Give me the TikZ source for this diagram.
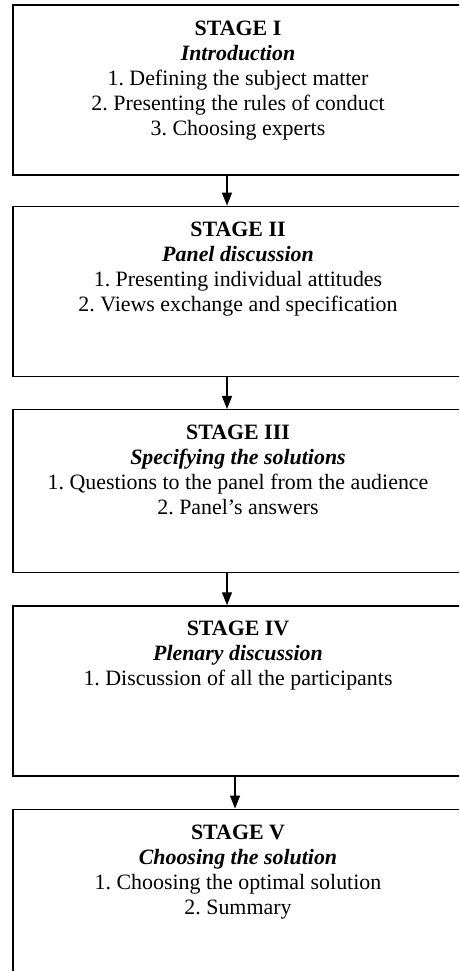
\documentclass[tikz,border=0pt]{standalone}
\usepackage{fontspec}
\setmainfont{Liberation Serif}
\usepackage{tikz}
\usetikzlibrary{arrows.meta,positioning}
\frenchspacing

\tikzset{
  stagebox/.style={draw,line width=1.3pt,minimum width=450pt,inner sep=0pt},
  stagetext/.style={align=center,inner sep=0pt,font=\fontsize{21.9}{25}\selectfont},
  flow/.style={line width=1.3pt,-{Triangle[width=10pt,length=13pt]}}
}

\begin{document}
\begin{tikzpicture}[x=1pt,y=-1pt]
	\useasboundingbox (0,0) rectangle (459,971);
	\clip (0,0) rectangle (459,971);
	\node[stagebox,minimum height=170pt] (s1) at (238,90) {};
	\node[stagebox,minimum height=170pt] (s2) [below=30pt of s1] {};
	\node[stagebox,minimum height=163pt] (s3) [below=32pt of s2] {};
	\node[stagebox,minimum height=170pt] (s4) [below=32pt of s3] {};
	\node[stagebox,minimum height=170pt] (s5) [below=32pt of s4] {};
	\node[stagetext] (t1) [below=16pt of s1.north]
	{\textbf{STAGE I}\\\textbf{\textit{Introduction}}\\1. Defining the subject matter\\2. Presenting the rules of conduct\\3. Choosing experts};
	\node[stagetext] (t2) [below=16pt of s2.north]
	{\textbf{STAGE II}\\\textbf{\textit{Panel discussion}}\\1. Presenting individual attitudes\\2. Views exchange and specification};
	\node[stagetext] (t3) [below=16pt of s3.north]
	{\textbf{STAGE III}\\\textbf{\textit{Specifying the solutions}}\\1. Questions to the panel from the audience\\2. Panel's answers};
	\node[stagetext] (t4) [below=16pt of s4.north]
	{\textbf{STAGE IV}\\\textbf{\textit{Plenary discussion}}\\1. Discussion of all the participants};
	\node[stagetext] (t5) [below=16pt of s5.north]
	{\textbf{STAGE V}\\\textbf{\textit{Choosing the solution}}\\1. Choosing the optimal solution\\2. Summary};
	\draw[flow] ([xshift=-11pt]s1.south) -- ([xshift=-11pt]s2.north);
	\draw[flow] ([xshift=-11pt]s2.south) -- ([xshift=-11pt]s3.north);
	\draw[flow] ([xshift=-11pt]s3.south) -- ([xshift=-11pt]s4.north);
	\draw[flow] ([xshift=-3pt]s4.south) -- ([xshift=-3pt]s5.north);
\end{tikzpicture}
\end{document}
